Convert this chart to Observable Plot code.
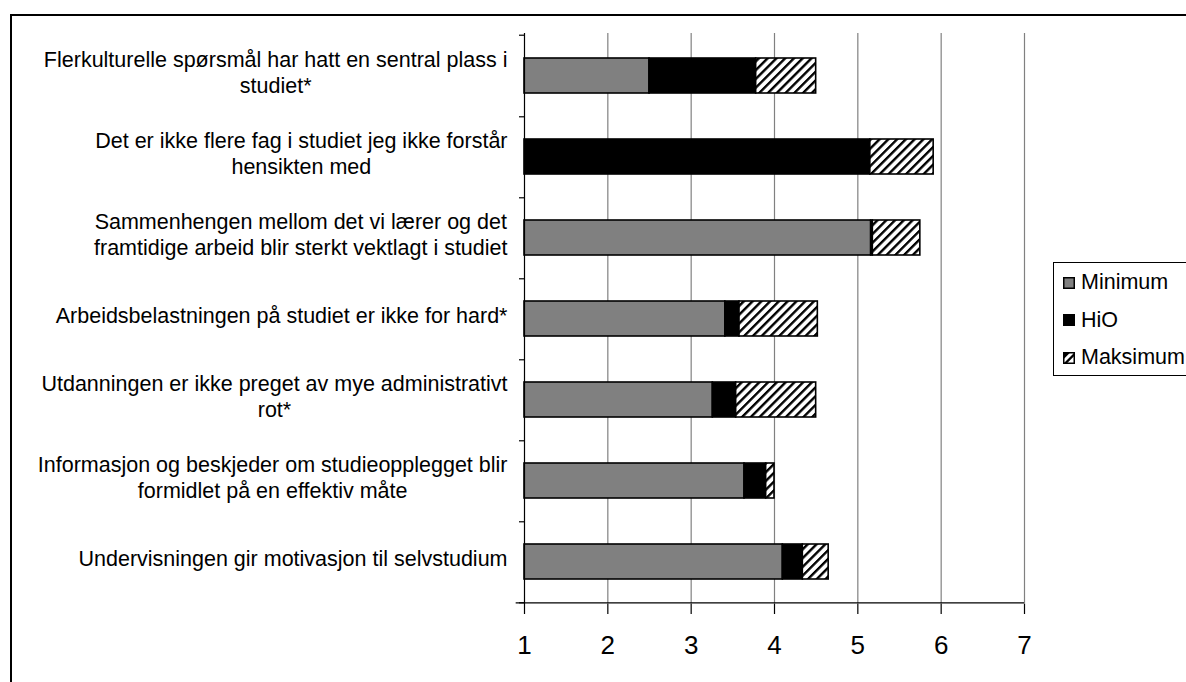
<!DOCTYPE html>
<html>
<head>
<meta charset="utf-8">
<script src="https://cdn.jsdelivr.net/npm/d3@7"></script>
<script src="https://cdn.jsdelivr.net/npm/@observablehq/plot@0.6"></script>
<style>
  html, body { margin: 0; padding: 0; background: white; }
  #wrap { position: relative; width: 1186px; height: 682px; overflow: hidden; font-family: "Liberation Sans", Arial, sans-serif; }
  #frame { position: absolute; left: 10px; top: 14px; width: 1200px; height: 700px; border: 2px solid black; box-sizing: border-box; }
  #chart { position: absolute; left: 0; top: 0; }
  #legend { position: absolute; left: 1053px; top: 262px; width: 160px; height: 114px; border: 1px solid black; background: white; box-sizing: border-box; padding-top: 1px; }
  .item { display: flex; align-items: center; height: 37.5px; font-size: 21.5px; color: black; }
  .item svg { margin-left: 9px; margin-right: 6px; }
</style>
</head>
<body>
<div id="wrap">
  <div id="frame"></div>
  <div id="chart"></div>
  <div id="legend"></div>
</div>
<script>
const categories = [
  "Flerkulturelle spørsmål har hatt en sentral plass i\nstudiet*",
  "Det er ikke flere fag i studiet jeg ikke forstår\nhensikten med",
  "Sammenhengen mellom det vi lærer og det\nframtidige arbeid blir sterkt vektlagt i studiet",
  "Arbeidsbelastningen på studiet er ikke for hard*",
  "Utdanningen er ikke preget av mye administrativt\nrot*",
  "Informasjon og beskjeder om studieopplegget blir\nformidlet på en effektiv måte",
  "Undervisningen gir motivasjon til selvstudium"
];
const minimum  = [2.50, 1.00, 5.16, 3.41, 3.26, 3.64, 4.10];
const hio      = [3.78, 5.15, 5.18, 3.58, 3.54, 3.90, 4.34];
const maksimum = [4.50, 5.91, 5.75, 4.52, 4.50, 4.00, 4.65];
const seriesNames = ["Minimum", "HiO", "Maksimum"];
const seriesFills = ["#808080", "#000000", "url(#hatch)"];
const xTicks = [1, 2, 3, 4, 5, 6, 7];
const axisStart = 1;

const segments = categories.flatMap((c, i) => [
  {cat: c, series: "Minimum", x1: axisStart, x2: minimum[i]},
  {cat: c, series: "HiO", x1: minimum[i], x2: hio[i]},
  {cat: c, series: "Maksimum", x1: hio[i], x2: maksimum[i]}
]).filter(d => d.x2 > d.x1);

const W = 1186, H = 682;
const mTop = 33, mBottom = 78, mLeft = 524, mRight = 162;
const step = (H - mTop - mBottom) / categories.length;

const chart = Plot.plot({
  width: W, height: H,
  marginTop: mTop, marginBottom: mBottom, marginLeft: mLeft, marginRight: mRight,
  style: {fontFamily: "Liberation Sans, Arial, sans-serif", background: "transparent", color: "black"},
  x: {domain: [1, 7], axis: null},
  y: {domain: categories, axis: null, paddingInner: 0.57, paddingOuter: 0.285},
  color: {domain: seriesNames, range: seriesFills},
  marks: [
    Plot.ruleX(xTicks.filter(d => d > axisStart), {stroke: "#808080", strokeWidth: 1.2}),
    Plot.rectX(segments, {y: "cat", x1: "x1", x2: "x2", fill: "series", stroke: "black", strokeWidth: 1.6}),
    Plot.ruleX([axisStart], {stroke: "black", strokeWidth: 1.2}),
    // category boundary ticks
    Plot.ruleY(categories, {y: d => d, x1: 0.94, x2: axisStart, dy: step / 2, stroke: "black", strokeWidth: 1.2}),
    Plot.ruleY(categories.slice(0, 1), {y: d => d, x1: 0.94, x2: axisStart, dy: -step / 2, stroke: "black", strokeWidth: 1.2}),
    // bottom axis line
    Plot.ruleY(categories.slice(-1), {y: d => d, x1: 0.9, x2: 7, dy: step / 2, stroke: "black", strokeWidth: 1.2}),
    Plot.axisX({ticks: xTicks, tickSize: 10, tickPadding: 21, fontSize: 26, tickFormat: d => String(d), strokeWidth: 1.2}),
    Plot.text(categories, {x: axisStart, y: d => d, text: d => d, textAnchor: "end", dx: -17, dy: -4, fontSize: 21.5, lineHeight: 1.17, fill: "black"})
  ]
});
document.getElementById("chart").appendChild(chart);

const svg = d3.select(chart);
svg.insert("defs", ":first-child").html(
  '<pattern id="hatch" patternUnits="userSpaceOnUse" width="6.2" height="6.2" patternTransform="rotate(45)">' +
  '<rect width="6.2" height="6.2" fill="white"/><rect width="2.4" height="6.2" fill="black"/></pattern>'
);

// center multi-line labels within their block (block right-aligned)
svg.selectAll('g[aria-label="text"] text').each(function() {
  const tspans = this.querySelectorAll("tspan");
  if (tspans.length < 2) return;
  let maxW = 0;
  tspans.forEach(t => { maxW = Math.max(maxW, t.getComputedTextLength()); });
  this.setAttribute("text-anchor", "middle");
  tspans.forEach(t => t.setAttribute("x", -maxW / 2));
});

// legend
const legend = d3.select("#legend");
seriesNames.forEach((name, i) => {
  const item = legend.append("div").attr("class", "item");
  const s = item.append("svg").attr("width", 12).attr("height", 12);
  if (i === 2) {
    s.append("rect").attr("x", 0.75).attr("y", 0.75).attr("width", 10.5).attr("height", 10.5).attr("fill", "white").attr("stroke", "black").attr("stroke-width", 1.5);
    s.append("path").attr("d", "M0.75,11.25 L11.25,0.75 L11.25,4 L4,11.25 Z").attr("fill", "black");
    s.append("path").attr("d", "M0.75,7 L7,0.75 L0.75,0.75 Z").attr("fill", "black");
  } else {
    s.append("rect").attr("x", 0.75).attr("y", 0.75).attr("width", 10.5).attr("height", 10.5).attr("fill", seriesFills[i]).attr("stroke", "black").attr("stroke-width", 1.5);
  }
  item.append("span").text(name);
});
</script>
</body>
</html>
